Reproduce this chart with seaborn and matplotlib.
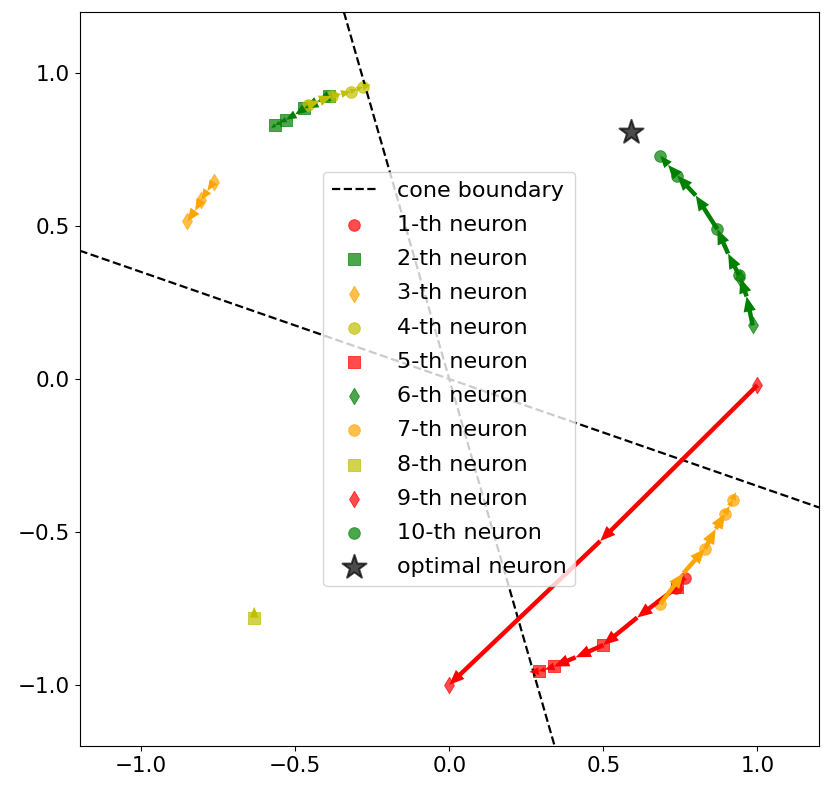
import numpy as np
import matplotlib
matplotlib.use("Agg")
import matplotlib.pyplot as plt
import seaborn as sns

# Trajectories of each neuron
n1_x = [0.765, 0.75, 0.735]
n1_y = [-0.65, -0.665, -0.685]
n2_x = [-0.39, -0.43, -0.47, -0.50, -0.53, -0.55, -0.565, -0.578]
n2_y = [0.925, 0.905, 0.885, 0.865, 0.848, 0.838, 0.83, 0.82]
n3_x = [-0.765, -0.785, -0.805, -0.825, -0.85]
n3_y = [0.645, 0.615, 0.585, 0.55, 0.515]
n4_x = [-0.46, -0.42, -0.38, -0.35, -0.32, -0.30, -0.28, -0.255]
n4_y = [0.895, 0.91, 0.925, 0.932, 0.94, 0.948, 0.955, 0.962]
n5_x = [0.74, 0.61, 0.50, 0.41, 0.34, 0.31, 0.29, 0.26]
n5_y = [-0.68, -0.78, -0.87, -0.91, -0.94, -0.95, -0.955, -0.958]
n6_x = [0.985, 0.965, 0.945]
n6_y = [0.175, 0.27, 0.33]
n7_x = [0.685, 0.76, 0.83, 0.865, 0.895, 0.91, 0.92, 0.93]
n7_y = [-0.735, -0.635, -0.555, -0.49, -0.44, -0.415, -0.395, -0.37]
n8_x = [-0.633, -0.633]
n8_y = [-0.78, -0.745]
n9_x = [1.0, 0.49, 0.0]
n9_y = [-0.02, -0.53, -1.0]
n10_x = [0.94, 0.905, 0.87, 0.80, 0.74, 0.71, 0.685]
n10_y = [0.34, 0.41, 0.49, 0.60, 0.665, 0.70, 0.73]

neuron_colors = ['red', 'green', 'orange', 'y', 'red', 'green', 'orange', 'y', 'red', 'green']
neuron_markers = ['o', 's', 'd', 'o', 's', 'd', 'o', 's', 'd', 'o']

# optimal neuron and cone boundary directions
opt_x = [0.59]
opt_y = [0.807]
boundary_dirs = [(1.0, -0.35), (-0.285, 1.0)]

paths = [(n1_x, n1_y), (n2_x, n2_y), (n3_x, n3_y), (n4_x, n4_y), (n5_x, n5_y),
         (n6_x, n6_y), (n7_x, n7_y), (n8_x, n8_y), (n9_x, n9_y), (n10_x, n10_y)]

fig = plt.figure(figsize=(8.3, 7.92), dpi=100)
ax = fig.add_axes([79.5 / 830, 46 / 792, 739.5 / 830, 734 / 792])

# cone boundaries (through origin)
for k, (dx, dy) in enumerate(boundary_dirs):
    ax.axline((0, 0), (dx, dy), color='black', linestyle='--', lw=1.6,
              label='cone boundary' if k == 0 else None)

# neurons: markers every other step, arrows between every step
for i, (xs, ys) in enumerate(paths):
    c = neuron_colors[i]
    sns.scatterplot(x=xs[::2], y=ys[::2], marker=neuron_markers[i], color=c,
                    edgecolor=c, s=70, alpha=0.7, ax=ax, label=f'{i + 1}-th neuron')
    xs = np.array(xs)
    ys = np.array(ys)
    ax.quiver(xs[:-1], ys[:-1], np.diff(xs), np.diff(ys), angles='xy',
              scale_units='xy', scale=1, color=c, width=0.006,
              headwidth=2.8, headlength=3.4, headaxislength=3.4, zorder=3)

sns.scatterplot(x=opt_x, y=opt_y, marker='*', color='black', edgecolor='black',
                s=330, alpha=0.7, ax=ax, label='optimal neuron')

ax.set_xlim(-1.2, 1.2)
ax.set_ylim(-1.2, 1.2)
ax.set_xticks([-1.0, -0.5, 0.0, 0.5, 1.0])
ax.set_yticks([-1.0, -0.5, 0.0, 0.5, 1.0])
ax.tick_params(labelsize=15.5)
ax.legend(loc='center', fontsize=16, labelspacing=0.64, handletextpad=0.9)

plt.savefig("out.png", dpi=100)
plt.close()
